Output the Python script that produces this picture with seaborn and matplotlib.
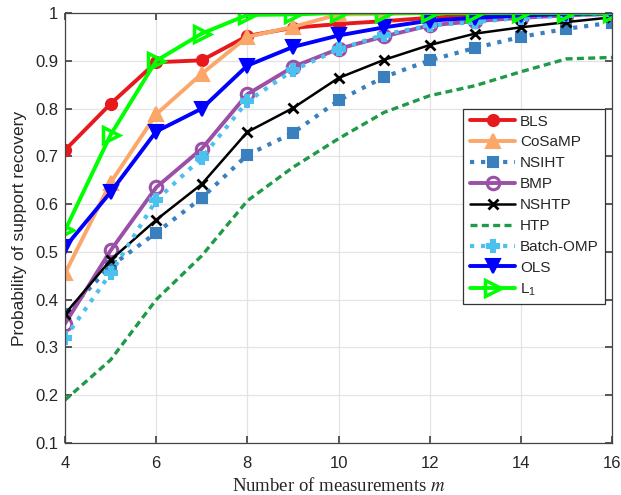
import numpy as np
import pandas as pd
import matplotlib
matplotlib.use("Agg")
import matplotlib.pyplot as plt
import seaborn as sns

m = [4, 5, 6, 7, 8, 9, 10, 11, 12, 13, 14, 15, 16]
bls = [0.713, 0.810, 0.897, 0.901, 0.952, 0.969, 0.977, 0.983, 0.990, 0.995, 0.998, 1.0, 1.0]
cosamp = [0.455, 0.645, 0.788, 0.873, 0.950, 0.971, 0.997, 0.998, 1.0, 1.0, 1.0, 1.0, 1.0]
nsiht = [0.370, 0.470, 0.540, 0.613, 0.703, 0.749, 0.817, 0.866, 0.901, 0.927, 0.950, 0.967, 0.980]
bmp = [0.350, 0.503, 0.635, 0.716, 0.830, 0.887, 0.925, 0.951, 0.974, 0.983, 0.990, 0.995, 0.998]
nshtp = [0.370, 0.483, 0.567, 0.642, 0.751, 0.801, 0.864, 0.902, 0.933, 0.957, 0.970, 0.981, 0.991]
htp = [0.190, 0.274, 0.400, 0.492, 0.607, 0.677, 0.737, 0.792, 0.827, 0.848, 0.877, 0.904, 0.907]
batch_omp = [0.320, 0.455, 0.608, 0.697, 0.815, 0.880, 0.924, 0.955, 0.974, 0.981, 0.990, 0.995, 0.998]
ols = [0.510, 0.625, 0.752, 0.800, 0.890, 0.929, 0.953, 0.970, 0.984, 0.990, 0.995, 0.998, 1.0]
l1 = [0.545, 0.745, 0.900, 0.957, 0.996, 0.997, 1.0, 1.0, 1.0, 1.0, 1.0, 1.0, 1.0]

names = ["BLS", "CoSaMP", "NSIHT", "BMP", "NSHTP", "HTP", "Batch-OMP", "OLS", r"$\mathregular{L_1}$"]
series = [bls, cosamp, nsiht, bmp, nshtp, htp, batch_omp, ols, l1]

rows = []
for n, vals in zip(names, series):
    for x, v in zip(m, vals):
        rows.append({"alg": n, "m": x, "p": v})
df = pd.DataFrame(rows)

styles = {
    "BLS": dict(color="#e8191c", marker="o", ls="-", lw=2.8, ms=8, mfc="#e8191c"),
    "CoSaMP": dict(color="#fba76a", marker="^", ls="-", lw=2.8, ms=10, mfc="#fba76a"),
    "NSIHT": dict(color="#3a80bf", marker="s", ls=":", lw=3.0, ms=7.5, mfc="#3a80bf"),
    "BMP": dict(color="#9b4fa6", marker="o", ls="-", lw=2.8, ms=9, mfc="none", mew=2.2),
    "NSHTP": dict(color="black", marker="x", ls="-", lw=1.8, ms=7, mfc="black", mew=2.0),
    "HTP": dict(color="#1f9a48", marker=None, ls=(0, (2.1, 1.3)), lw=2.4, ms=0, mfc="none"),
    "Batch-OMP": dict(color="#4cc0ee", marker="P", ls=":", lw=3.0, ms=8, mfc="#4cc0ee"),
    "OLS": dict(color="#0000ff", marker="v", ls="-", lw=2.8, ms=10, mfc="#0000ff"),
    r"$\mathregular{L_1}$": dict(color="#00ff00", marker=">", ls="-", lw=2.8, ms=11, mfc="none", mew=2.5),
}

sns.set_theme(style="whitegrid")
plt.rcParams["font.family"] = ["Liberation Sans", "DejaVu Sans"]
plt.rcParams["mathtext.fontset"] = "stix"

fig = plt.figure(figsize=(6.21, 4.95), dpi=100)
ax = fig.add_axes([0.1047, 0.105, 0.8808, 0.8687])

for n in names:
    st = styles[n]
    sub = df[df["alg"] == n]
    kw = dict(color=st["color"], linewidth=st["lw"], linestyle=st["ls"], label=n)
    if st["marker"]:
        kw.update(marker=st["marker"], markersize=st["ms"], markerfacecolor=st["mfc"],
                  markeredgecolor=st["color"], markeredgewidth=st.get("mew", 1.5))
    sns.lineplot(data=sub, x="m", y="p", ax=ax, errorbar=None, **kw)

ax.set_xlim(4, 16)
ax.set_ylim(0.1, 1.0)
ax.set_xticks([4, 6, 8, 10, 12, 14, 16])
ax.set_yticks([0.1, 0.2, 0.3, 0.4, 0.5, 0.6, 0.7, 0.8, 0.9, 1.0])
ax.set_yticklabels(["0.1", "0.2", "0.3", "0.4", "0.5", "0.6", "0.7", "0.8", "0.9", "1"])
ax.grid(True, color="#e3e3e3", linewidth=0.9)
ax.set_facecolor("white")
for s in ax.spines.values():
    s.set_color("#444444")
    s.set_linewidth(0.9)
ax.tick_params(axis="both", which="both", direction="in", length=5, labelsize=12,
               top=True, right=True, bottom=True, left=True, color="#444444")
ax.tick_params(axis="x", pad=9)
ax.tick_params(axis="y", pad=5)

ax.set_xlabel("Number of measurements $m$", fontsize=13.5, family="Liberation Serif", labelpad=5)
ax.set_ylabel("Probability of support recovery", fontsize=12.5, labelpad=6)

leg = ax.legend(loc="lower right", bbox_to_anchor=(0.987, 0.323), fontsize=11,
                frameon=True, fancybox=False, edgecolor="#333333", framealpha=1,
                handlelength=3.0, handletextpad=0.3, labelspacing=0.45, borderpad=0.4,
                borderaxespad=0)
leg.get_frame().set_linewidth(0.9)

fig.savefig("out.png", dpi=100)
